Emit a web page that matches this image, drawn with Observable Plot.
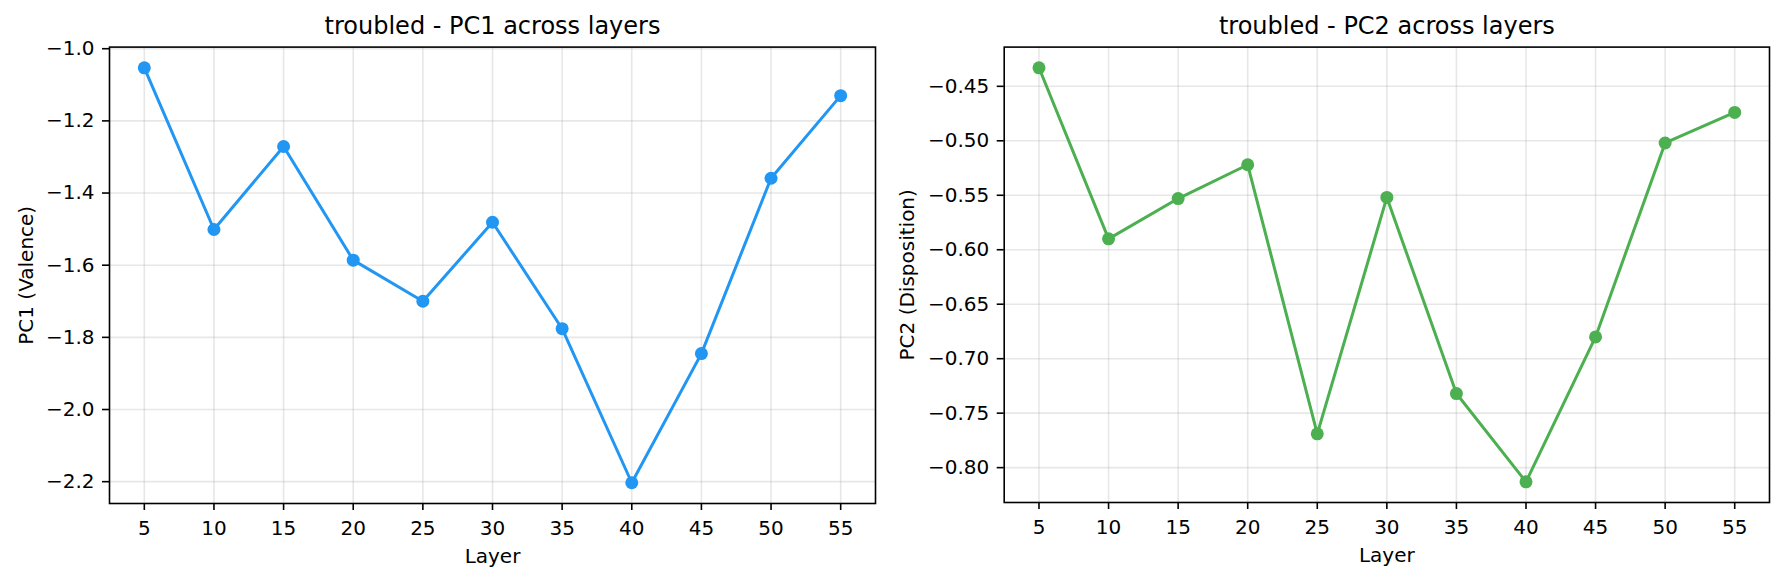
<!DOCTYPE html>
<html>
<head>
<meta charset="utf-8">
<script src="https://cdn.jsdelivr.net/npm/d3@7"></script>
<script src="https://cdn.jsdelivr.net/npm/@observablehq/plot@0.6"></script>
<style>
  html, body { margin: 0; padding: 0; background: #fff; }
  #wrap { position: relative; width: 1784px; height: 581px; overflow: hidden; background: #fff; }
  #wrap svg { position: absolute; top: 0; }
</style>
</head>
<body>
<div id="wrap"></div>
<script>
const layers = [5, 10, 15, 20, 25, 30, 35, 40, 45, 50, 55];
const pc1 = [-1.053, -1.501, -1.271, -1.586, -1.700, -1.481, -1.776, -2.203, -1.845, -1.359, -1.130];
const pc2 = [-0.433, -0.590, -0.553, -0.522, -0.769, -0.552, -0.732, -0.813, -0.680, -0.502, -0.474];
const xTicks = [5, 10, 15, 20, 25, 30, 35, 40, 45, 50, 55];
const pc1Ticks = [-2.2, -2.0, -1.8, -1.6, -1.4, -1.2, -1.0];
const pc2Ticks = [-0.80, -0.75, -0.70, -0.65, -0.60, -0.55, -0.50, -0.45];
const titles = ["troubled - PC1 across layers", "troubled - PC2 across layers"];
const yLabels = ["PC1 (Valence)", "PC2 (Disposition)"];
const xLabel = "Layer";
const colors = ["#2196F3", "#4CAF50"];

function panel(values, yTicks, fmt, title, yLabel, color, opts) {
  const data = layers.map((l, i) => ({layer: l, v: values[i]}));
  const lo = d3.min(values), hi = d3.max(values);
  const pad = (hi - lo) * 0.05;
  const xlo = d3.min(layers), xhi = d3.max(layers);
  const xpad = (xhi - xlo) * 0.05;
  return Plot.plot({
    width: 892,
    height: 581,
    marginLeft: opts.ml,
    marginRight: opts.mr,
    marginTop: 46.6,
    marginBottom: opts.mb,
    style: {fontFamily: "'DejaVu Sans', sans-serif", fontSize: "20px", color: "#000", background: "#fff"},
    x: {domain: [xlo - xpad, xhi + xpad]},
    y: {domain: [lo - pad, hi + pad]},
    marks: [
      Plot.gridX(xTicks, {stroke: "#b0b0b0", strokeOpacity: 0.3, strokeWidth: 1.6}),
      Plot.gridY(yTicks, {stroke: "#b0b0b0", strokeOpacity: 0.3, strokeWidth: 1.6}),
      Plot.axisX({ticks: xTicks, tickSize: 7, tickPadding: 10, strokeWidth: 1.6, label: null, tickFormat: d3.format("d")}),
      Plot.axisY({ticks: yTicks, tickSize: 7, tickPadding: 8, strokeWidth: 1.6, label: null, tickFormat: d3.format(fmt)}),
      Plot.line(data, {x: "layer", y: "v", stroke: color, strokeWidth: 3}),
      Plot.dot(data, {x: "layer", y: "v", fill: color, r: 6.5}),
      Plot.frame({stroke: "#000", strokeWidth: 1.6}),
      Plot.text([title], {text: d => d, frameAnchor: "top", dy: -13.6, lineAnchor: "bottom", fontSize: 24, fill: "#000"}),
      Plot.text([xLabel], {text: d => d, frameAnchor: "bottom", dy: 59, lineAnchor: "bottom", fontSize: 20, fill: "#000"}),
      Plot.text([yLabel], {text: d => d, frameAnchor: "left", dx: opts.ydx, rotate: -90, lineAnchor: "bottom", textAnchor: "middle", fontSize: 20, fill: "#000"})
    ]
  });
}

const wrap = document.getElementById("wrap");
const left = panel(pc1, pc1Ticks, ".1f", titles[0], yLabels[0], colors[0], {ml: 109, mr: 17, mb: 78, ydx: -77});
left.style.left = "0px";
const right = panel(pc2, pc2Ticks, ".2f", titles[1], yLabels[1], colors[1], {ml: 111.7, mr: 15, mb: 79, ydx: -90.2});
right.style.left = "892px";
wrap.appendChild(left);
wrap.appendChild(right);
</script>
</body>
</html>
